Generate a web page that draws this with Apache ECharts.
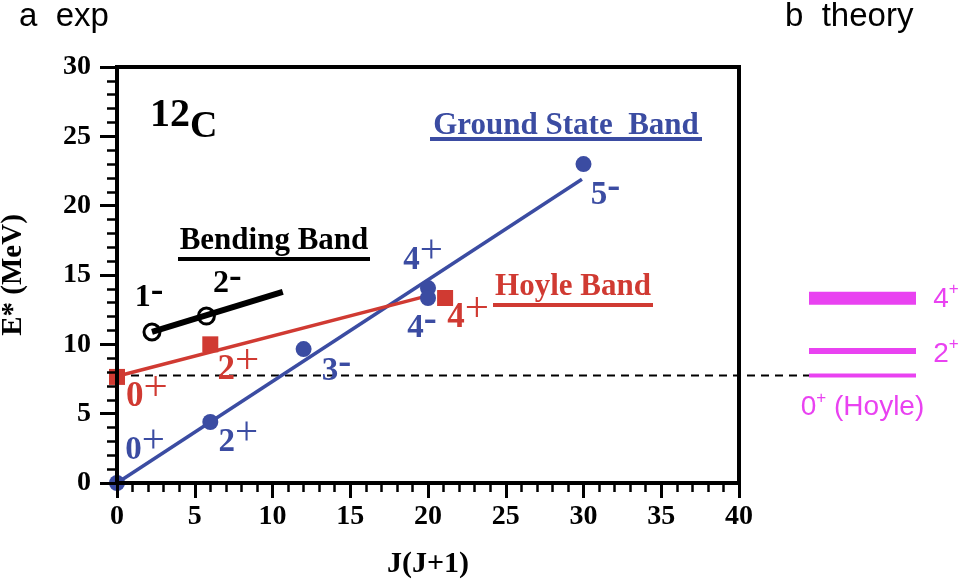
<!DOCTYPE html>
<html>
<head>
<meta charset="utf-8">
<script src="https://cdn.jsdelivr.net/npm/echarts@6/dist/echarts.min.js"></script>
<style>
html, body { margin: 0; padding: 0; background: #fff; }
#main { width: 967px; height: 583px; }
</style>
</head>
<body>
<div id="main"></div>
<script>
// ground state band (blue)
const gsJJ = [0, 6, 12, 20, 20, 30];
const gsE = [0, 4.4, 9.66, 14.06, 13.34, 23.0];
const gsSpin = ['0+', '2+', '3-', '4+', '4-', '5-'];
const gsFitJJ = [0, 29.9];
const gsFitE = [0, 21.9];

// Hoyle band (red)
const hoyleJJ = [0, 6, 21.1];
const hoyleE = [7.65, 10.0, 13.34];
const hoyleSpin = ['0+', '2+', '4+'];
const hoyleFitJJ = [0, 19.9];
const hoyleFitE = [7.7, 13.48];

// bending band (black)
const bendJJ = [2.25, 5.75];
const bendE = [10.89, 12.04];
const bendSpin = ['1-', '2-'];
const bendFitJJ = [2.25, 10.66];
const bendFitE = [10.89, 13.79];

// theory levels (panel b)
const theorySpin = ['0+', '2+', '4+'];
const theoryE = [7.75, 9.52, 13.32];
const hoyleThreshold = 7.75;

const yTicks = [0, 5, 10, 15, 20, 25, 30];
const xTicks = [0, 5, 10, 15, 20, 25, 30, 35, 40];

// label placement / styling (pixels)
const gsLabelOffset = [[28, -33], [28, 20], [33, 22], [-5, -28], [-6, 30], [22, 31]];
const hoyleLabelOffset = [[30, 20], [28, 26], [23, 20]];
const bendLabelOffset = [[-3, -34], [21, -32]];
const theoryLabelOffset = [[0, 30], [30, 1], [30, -1]];
const theoryWidth = [4, 6, 13];
const theoryFrom = 44.56, theoryTo = 51.45;

const BLUE = '#3b4ca2';
const RED = '#d03a32';
const MAG = '#e942f1';
const SERIF = 'Liberation Serif';

function spinText(s) {
    return '{n|' + s[0] + '}' + (s[1] === '+' ? '{p|+}' : '{m|-}');
}

// superscript sign raised with bottom padding
function spinRich(color, size) {
    return {
        n: { fontFamily: SERIF, fontWeight: 'bold', fontSize: size, lineHeight: 40, color: color },
        p: { fontFamily: SERIF, fontWeight: 'normal', fontSize: size + 8, lineHeight: 40, padding: [0, 0, 17, 0], color: color },
        m: { fontFamily: SERIF, fontWeight: 'bold', fontSize: size + 6, lineHeight: 40, padding: [0, 0, 14, 0], color: color }
    };
}

function points(name, xs, ys, spins, offsets, color, size, symbol, itemStyle) {
    return {
        name: name,
        type: 'scatter',
        symbol: symbol,
        symbolSize: 16,
        itemStyle: Object.assign({ opacity: 1 }, itemStyle),
        z: 4,
        data: xs.map((x, i) => [x, ys[i]]),
        label: {
            show: true,
            position: 'inside',
            align: 'center',
            verticalAlign: 'middle',
            formatter: (p) => spinText(spins[p.dataIndex]),
            rich: spinRich(color, size)
        },
        labelLayout: (p) => ({ dx: offsets[p.dataIndex][0], dy: offsets[p.dataIndex][1] })
    };
}

function fitLine(xs, ys, color, width) {
    return {
        type: 'line',
        symbol: 'none',
        z: 3,
        lineStyle: { color: color, width: width },
        data: xs.map((x, i) => [x, ys[i]])
    };
}

const myChart = echarts.init(document.getElementById('main'));

let series = [
    fitLine(gsFitJJ, gsFitE, BLUE, 3.5),
    fitLine(hoyleFitJJ, hoyleFitE, RED, 3.5),
    fitLine(bendFitJJ, bendFitE, '#000', 6),
    points('gs', gsJJ, gsE, gsSpin, gsLabelOffset, BLUE, 33, 'circle', { color: BLUE }),
    points('hoyle', hoyleJJ, hoyleE, hoyleSpin, hoyleLabelOffset, RED, 35, 'rect', { color: RED }),
    points('bend', bendJJ, bendE, bendSpin, bendLabelOffset, '#000', 32, 'circle',
        { color: 'rgba(0,0,0,0)', borderColor: '#000', borderWidth: 3 }),
    {
        // Hoyle threshold, carried over to the theory panel
        type: 'line',
        xAxisIndex: 1,
        yAxisIndex: 1,
        symbol: 'none',
        z: 1,
        lineStyle: { color: '#000', width: 2, type: [8, 6] },
        data: [[0, hoyleThreshold], [theoryFrom, hoyleThreshold]]
    }
];

theoryE.forEach((e, i) => {
    series.push({
        type: 'line',
        xAxisIndex: 1,
        yAxisIndex: 1,
        symbol: 'none',
        lineStyle: { color: MAG, width: theoryWidth[i] },
        data: [[theoryFrom, e], [theoryTo, e]]
    });
});

series.push({
    type: 'scatter',
    xAxisIndex: 1,
    yAxisIndex: 1,
    symbolSize: 0,
    itemStyle: { opacity: 1 },
    data: theoryE.map((e, i) => [i === 0 ? (theoryFrom + theoryTo) / 2 : theoryTo, e]),
    label: {
        show: true,
        position: 'inside',
        align: 'center',
        verticalAlign: 'middle',
        formatter: (p) => '{n|' + theorySpin[p.dataIndex][0] + '}{p|+}' + (p.dataIndex === 0 ? '{n| (Hoyle)}' : ''),
        rich: {
            n: { fontFamily: 'Liberation Sans', fontSize: 28, lineHeight: 32, verticalAlign: 'bottom', color: MAG },
            p: { fontFamily: 'Liberation Sans', fontSize: 17, lineHeight: 14, verticalAlign: 'top', color: MAG }
        }
    },
    labelLayout: (p) => ({ dx: theoryLabelOffset[p.dataIndex][0], dy: theoryLabelOffset[p.dataIndex][1] })
});

let tickLabel = { fontFamily: SERIF, fontWeight: 'bold', fontSize: 28, color: '#000' };

let option = {
    animation: false,
    backgroundColor: '#fff',
    grid: [
        { left: 117, right: 228, top: 67, bottom: 100, outerBoundsMode: 'none', show: true, borderColor: '#000', borderWidth: 4, backgroundColor: 'transparent' },
        { left: 117, right: 51, top: 67, bottom: 100, outerBoundsMode: 'none' }
    ],
    xAxis: [{
        type: 'value',
        min: 0,
        max: 40,
        interval: 5,
        z: 5,
        name: 'J(J+1)',
        nameLocation: 'middle',
        nameGap: 66,
        nameTextStyle: { fontFamily: SERIF, fontWeight: 'bold', fontSize: 30, color: '#000' },
        axisLine: { lineStyle: { color: '#000', width: 4 } },
        axisTick: { length: 15, lineStyle: { color: '#000', width: 3 } },
        minorTick: { show: true, splitNumber: 5, length: 9, lineStyle: { color: '#000', width: 2.5 } },
        splitLine: { show: false },
        axisLabel: Object.assign({ margin: 20, formatter: (v) => xTicks.includes(v) ? String(v) : '' }, tickLabel)
    }, {
        type: 'value',
        gridIndex: 1,
        min: 0,
        max: theoryTo,
        show: false
    }],
    yAxis: [{
        type: 'value',
        min: 0,
        max: 30,
        interval: 5,
        z: 5,
        name: 'E* (MeV)',
        nameLocation: 'middle',
        nameRotate: 90,
        nameGap: 89,
        nameTextStyle: { fontFamily: SERIF, fontWeight: 'bold', fontSize: 29, color: '#000' },
        axisLine: { lineStyle: { color: '#000', width: 4 } },
        axisTick: { length: 17, lineStyle: { color: '#000', width: 3 } },
        minorTick: { show: true, splitNumber: 5, length: 10, lineStyle: { color: '#000', width: 2.5 } },
        splitLine: { show: false },
        axisLabel: Object.assign({ margin: 26, formatter: (v) => yTicks.includes(v) ? String(v) : '' }, tickLabel)
    }, {
        type: 'value',
        gridIndex: 1,
        min: 0,
        max: 30,
        show: false
    }],
    graphic: [
        { type: 'text', style: { text: 'a  exp', x: 19, y: 17, font: '33px "Liberation Sans"', fill: '#000', textVerticalAlign: 'middle' } },
        { type: 'text', style: { text: 'b  theory', x: 785, y: 17, font: '33px "Liberation Sans"', fill: '#000', textVerticalAlign: 'middle' } },
        {
            type: 'text',
            style: {
                text: '{a|12}{b|C}', x: 150, y: 96, textVerticalAlign: 'top',
                rich: {
                    a: { fontFamily: SERIF, fontWeight: 'bold', fontSize: 40, lineHeight: 40, verticalAlign: 'top', fill: '#000' },
                    b: { fontFamily: SERIF, fontWeight: 'bold', fontSize: 38, lineHeight: 50, verticalAlign: 'bottom', fill: '#000' }
                }
            }
        },
        { type: 'text', style: { text: 'Ground State  Band', x: 566, y: 126, font: 'bold 31px "Liberation Serif"', fill: BLUE, textAlign: 'center', textVerticalAlign: 'middle' } },
        { type: 'line', shape: { x1: 430, y1: 139, x2: 702, y2: 139 }, style: { stroke: BLUE, lineWidth: 4 } },
        { type: 'text', style: { text: 'Bending Band', x: 274, y: 241, font: 'bold 31px "Liberation Serif"', fill: '#000', textAlign: 'center', textVerticalAlign: 'middle' } },
        { type: 'line', shape: { x1: 178, y1: 259, x2: 370, y2: 259 }, style: { stroke: '#000', lineWidth: 4 } },
        { type: 'text', style: { text: 'Hoyle Band', x: 573, y: 287, font: 'bold 31px "Liberation Serif"', fill: RED, textAlign: 'center', textVerticalAlign: 'middle' } },
        { type: 'line', shape: { x1: 493, y1: 305, x2: 653, y2: 305 }, style: { stroke: RED, lineWidth: 4 } }
    ],
    series: series
};
myChart.setOption(option);
</script>
</body>
</html>
